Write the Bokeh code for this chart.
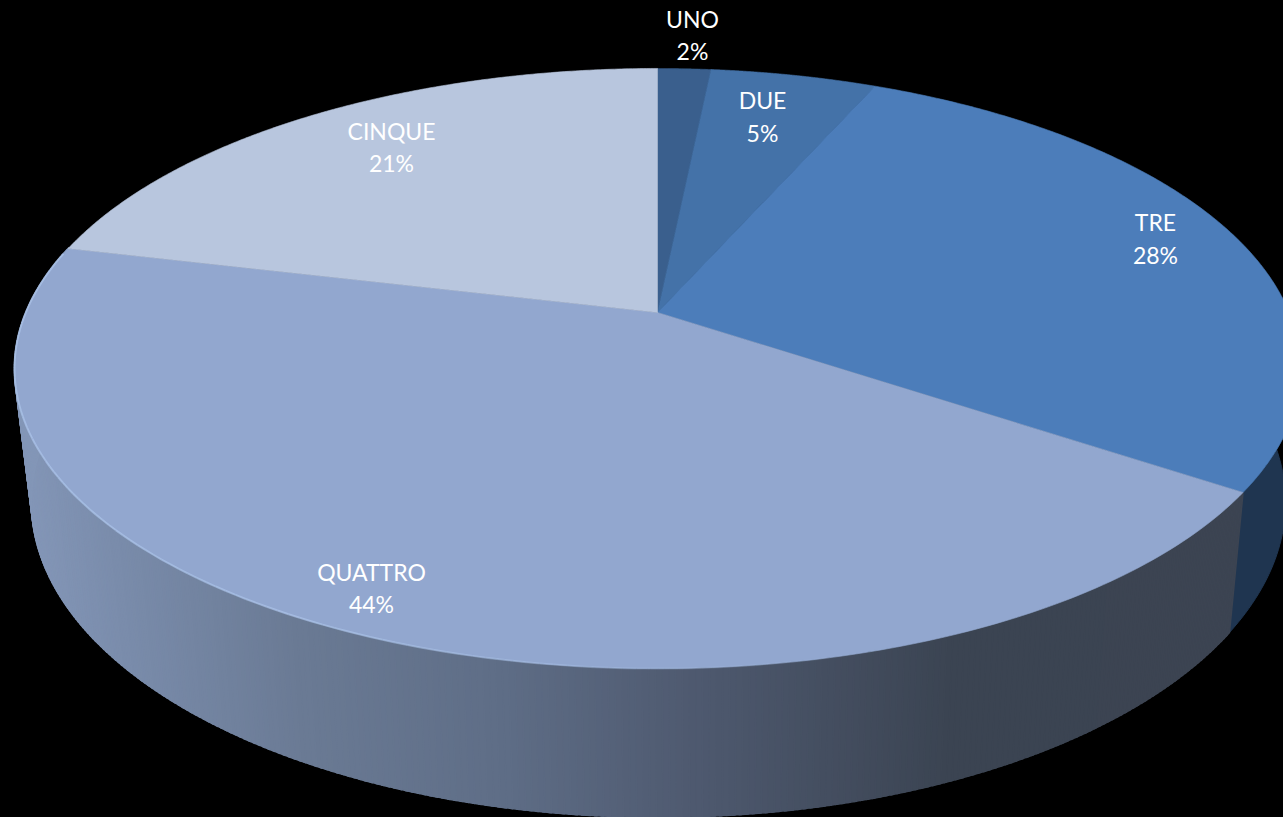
import numpy as np
from bokeh.plotting import figure
from bokeh.models import Range1d, ColumnDataSource, GlobalInlineStyleSheet
from bokeh.core.properties import value
from bokeh.embed import file_html
from bokeh.resources import INLINE

# Data
categories = ["UNO", "DUE", "TRE", "QUATTRO", "CINQUE"]
shares = [1.6, 5.0, 27.8, 44.3, 21.3]
percent_labels = ["2%", "5%", "28%", "44%", "21%"]

# Style / layout
top_colors = ["#3A5F8D", "#4472A8", "#4C7DBA", "#92A7CF", "#B8C6DE"]
side_dark_tre = "#1F3550"
label_x = [692, 762, 1155, 371, 391]
label_y_name = [18, 99, 221, 571, 130]
label_y_pct = [50, 132, 254, 603, 162]
W, H = 1283, 817
K = 0.1867
TOP = dict(cx=657.0, cy=312.0, a=631.7, b=289.6)
LOW = dict(cx=658.0, cy=443.0, a=616.0, b=304.0)
SIDE_X = [30, 130, 300, 500, 690, 950, 1240]
SIDE_R = [0x84, 0x7A, 0x6B, 0x5F, 0x4F, 0x3B, 0x3D]
SIDE_G = [0x97, 0x8C, 0x7B, 0x6E, 0x5A, 0x44, 0x45]
SIDE_B = [0xB8, 0xAB, 0x95, 0x87, 0x70, 0x52, 0x52]


def project(theta, d):
    w = 1 + K * np.cos(theta)
    return d["cx"] + d["a"] * np.sin(theta) / w, d["cy"] - d["b"] * np.cos(theta) / w


edges = np.radians(np.cumsum([0] + shares) / sum(shares) * 360)

p = figure(width=W, height=H, x_range=Range1d(0, W), y_range=Range1d(H, 0),
           output_backend="svg", toolbar_location=None, background_fill_color="#000000",
           border_fill_color="#000000", outline_line_color=None, min_border=0)
p.axis.visible = False
p.grid.visible = False
p.stylesheets = [GlobalInlineStyleSheet(css="html,body{margin:0;padding:0;background:#000;overflow:hidden}")]

# Side of TRE (dark) behind
t = np.linspace(np.radians(90), edges[3], 40)
xu, yu = project(t, TOP)
xl, yl = project(t, LOW)
p.patch(np.r_[xu, xl[::-1]], np.r_[yu, yl[::-1]], fill_color=side_dark_tre, line_color=side_dark_tre)

# Side of QUATTRO: gradient strips
t = np.linspace(edges[3], edges[4], 321)
xs, ys, cols = [], [], []
for a, b in zip(t[:-1], t[1:]):
    pair = np.array([a, b + 0.004])
    xu, yu = project(pair, TOP)
    xl, yl = project(pair, LOW)
    xs.append(np.r_[xu, xl[::-1]].tolist())
    ys.append(np.r_[yu, yl[::-1]].tolist())
    xm = xl.mean()
    cols.append("#%02x%02x%02x" % (int(np.interp(xm, SIDE_X, SIDE_R)),
                                   int(np.interp(xm, SIDE_X, SIDE_G)),
                                   int(np.interp(xm, SIDE_X, SIDE_B))))
p.patches(xs, ys, fill_color=cols, line_color=cols, line_width=1.5)

# Top face slices
xs, ys = [], []
for a, b in zip(edges[:-1], edges[1:]):
    t = np.linspace(a, b, 200)
    x, y = project(t, TOP)
    xs.append(np.r_[TOP["cx"], x].tolist())
    ys.append(np.r_[TOP["cy"], y].tolist())
p.patches(xs, ys, fill_color=top_colors, line_color=top_colors, line_width=0.6)

# Rim highlight on the lit part of QUATTRO, fading to the right
t = np.linspace(np.radians(160), edges[4] - 0.02, 120)
rx, ry, ra = [], [], []
for a, b in zip(t[:-1], t[1:]):
    pair = np.array([a, b])
    x, y = project(pair, TOP)
    rx.append(x.tolist())
    ry.append(y.tolist())
    ra.append(float(np.interp(np.degrees(a), [160, 205, 283], [0.0, 0.55, 0.6])))
p.multi_line(rx, ry, line_color="#B4CDF2", line_width=2.0, line_alpha=ra)

src = ColumnDataSource(dict(x=label_x, yn=label_y_name, yp=label_y_pct,
                            name=categories, pct=percent_labels))
for yc, tc in (("yn", "name"), ("yp", "pct")):
    p.text(x="x", y=yc, text=tc, source=src, text_color="#FFFFFF", text_align="center",
           text_baseline="middle", text_font=value("Lato"), text_font_size="23px")

open("out.html", "w").write(file_html(p, INLINE))
